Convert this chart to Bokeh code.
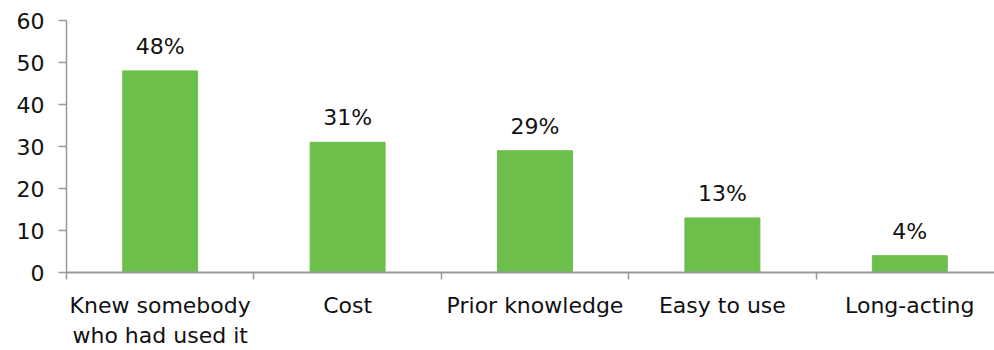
from bokeh.plotting import figure
from bokeh.models import FixedTicker, ColumnDataSource, Range1d
from bokeh.embed import file_html
from bokeh.resources import INLINE
from bokeh.core.properties import value

categories = ["Knew somebody\nwho had used it", "Cost", "Prior knowledge", "Easy to use", "Long-acting"]
values = [48, 31, 29, 13, 4]
labels = ["48%", "31%", "29%", "13%", "4%"]
y_ticks = [0, 10, 20, 30, 40, 50, 60]

FONT = "DejaVu Sans"
GREEN = "#6CBF4B"
AXIS = "#999999"
TXT = "#111111"

xs = list(range(1, len(categories) + 1))
src = ColumnDataSource(dict(x=xs, top=values, label=labels))

p = figure(width=994, height=350, output_backend="svg", toolbar_location=None,
           x_range=Range1d(0.5, 5.452), y_range=Range1d(0, 60),
           min_border_left=66, min_border_right=0, min_border_top=20, min_border_bottom=77)
p.outline_line_color = None
p.grid.visible = False
p.background_fill_color = "white"
p.border_fill_color = "white"

p.vbar(x="x", top="top", width=0.4, color=GREEN, source=src)
p.text(x="x", y="top", text="label", source=src, text_align="center", text_baseline="bottom",
       y_offset=-12, text_font=value(FONT), text_font_size="22px", text_color=TXT)

p.yaxis.ticker = FixedTicker(ticks=y_ticks)
p.yaxis.axis_line_color = AXIS
p.yaxis.major_tick_line_color = AXIS
p.yaxis.major_tick_in = 0
p.yaxis.major_tick_out = 8
p.yaxis.minor_tick_line_color = None
p.yaxis.major_label_text_font = FONT
p.yaxis.major_label_text_font_size = "22px"
p.yaxis.major_label_text_color = TXT
p.yaxis.major_label_standoff = 14
p.yaxis.axis_line_width = 1.5
p.yaxis.major_tick_line_width = 1.5

p.xaxis.ticker = FixedTicker(ticks=xs, minor_ticks=[0.5, 1.5, 2.5, 3.5, 4.5])
p.xaxis.major_label_overrides = {x: c for x, c in zip(xs, categories)}
p.xaxis.axis_line_color = AXIS
p.xaxis.axis_line_width = 2
p.xaxis.major_tick_line_color = None
p.xaxis.minor_tick_line_color = AXIS
p.xaxis.minor_tick_line_width = 1.5
p.xaxis.minor_tick_in = 0
p.xaxis.minor_tick_out = 7
p.xaxis.major_label_text_font = FONT
p.xaxis.major_label_text_font_size = "22px"
p.xaxis.major_label_text_color = TXT
p.xaxis.major_label_standoff = 13

open("out.html", "w").write(file_html(p, INLINE))
